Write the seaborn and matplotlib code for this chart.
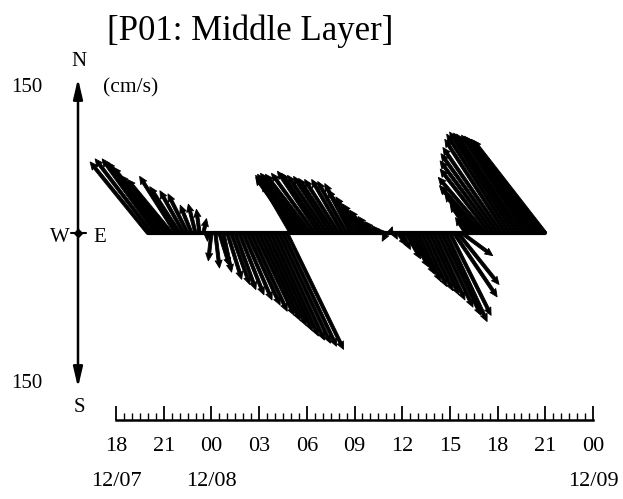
import numpy as np
import pandas as pd
import matplotlib
matplotlib.use("Agg")
import matplotlib.pyplot as plt
import matplotlib.transforms as mtransforms
import seaborn as sns

# ---------------- data ----------------
title = "[P01: Middle Layer]"
unit_label = "(cm/s)"
scale_max = 150
tick_hours = [0, 3, 6, 9, 12, 15, 18, 21, 24, 27, 30]          # hours after 12/07 18:00
tick_labels = ["18", "21", "00", "03", "06", "09", "12", "15", "18", "21", "00"]
date_hours = [0, 6, 30]
date_labels = ["12/07", "12/08", "12/09"]

start_hour = 2.0      # first sample: 12/07 20:00
step_hour = 0.25      # 15-minute sampling

u_east = [
    -56, -55, -52, -51, -49, -46, -43, -35, -29, -23, -19, -11, -7, -3, 3, 0,
    -3, 4, 10, 8, 14, 18, 20, 24, 28, 32, 35, 38, 40, 42, 44, 46, 48, 50, 52, 55,
    -28, -38, -42, -44, -45, -44, -42, -40, -40, -38, -36, -35, -33, -30, -28, -25,
    -26, -22, -19, -16, -12, -9, -6, -4,
    -4, 2, 3, 8, 8, 14, 18, 20, 22, 24, 26, 28, 30, 34, 38, 40, 40, 42, 40, 30,
    -10, -19, -28, -36, -41, -46, -48, -52, -55, -57, -59, -61, -62, -62, -63, -62,
    -63, -65, -67, -68, -70,
]
v_north = [
    69, 72, 72, 69, 64, 56, 52, 55, 45, 41, 38, 27, 28, 23, 14, -8,
    -27, -34, -32, -38, -45, -50, -55, -60, -65, -70, -76, -80, -85, -90, -95, -100,
    -104, -107, -110, -113,
    48, 54, 56, 57, 58, 57, 58, 60, 58, 56, 55, 53, 52, 52, 50, 48,
    42, 35, 28, 22, 16, 11, 7, 4,
    -8, 6, -6, -12, -16, -25, -33, -40, -47, -52, -56, -60, -65, -72, -80, -86,
    -80, -62, -50, -22,
    15, 28, 38, 45, 46, 54, 62, 70, 77, 83, 91, 96, 98, 97, 96, 95,
    94, 93, 92, 91, 90,
]

# ---------------- layout (pixels) ----------------
W, H = 623, 499
X0 = 116.0     # pixel x of hour 0
PXH = 15.9     # pixels per hour
Y0 = 233.0     # pixel y of zero velocity
PXV = 1.03     # pixels per cm/s
AXIS_X = 78.0
BAR_Y = 420.0

sns.set_theme(style="white", rc={"text.color": "black", "axes.edgecolor": "black",
                                 "xtick.color": "black", "ytick.color": "black"})
plt.rcParams["font.family"] = ["Liberation Serif", "DejaVu Serif"]

fig = plt.figure(figsize=(W / 100, H / 100), dpi=100)
fig.patch.set_facecolor("white")
ax = fig.add_axes([0, 0, 1, 1])

df = pd.DataFrame({"u": u_east, "v": v_north})
df["hour"] = start_hour + step_hour * np.arange(len(df))
df["base"] = 0.0

sns.lineplot(data=df, x="hour", y="base", color="black", linewidth=3.0, ax=ax,
             legend=False, zorder=4)
ax.quiver(df["hour"], df["base"], df["u"], df["v"], angles="uv",
          scale_units="dots", scale=1 / PXV, units="dots", width=3.2,
          headwidth=2.2, headlength=2.4, headaxislength=2.2, color="black",
          pivot="tail", zorder=3, linewidth=0.6, edgecolor="black")

ax.set_xlim(-X0 / PXH, (W - X0) / PXH)
ax.set_ylim(-(H - Y0) / PXV, Y0 / PXV)
ax.axis("off")

# N-S reference axis
xa = (AXIS_X - X0) / PXH
for end in (scale_max, -scale_max):
    ax.annotate("", xy=(xa, end), xytext=(xa, 0),
                arrowprops=dict(arrowstyle="-|>,head_length=1.2,head_width=0.28",
                                color="black", lw=1.8, shrinkA=0, shrinkB=0,
                                mutation_scale=10))
ax.plot([xa - 7 / PXH, xa + 8 / PXH], [0, 0], color="black", lw=1.5)
ax.plot([xa], [0], marker="D", ms=4, color="black")


def ftext(px, py, s, **kw):
    fig.text(px / W, 1 - py / H, s, **kw)


ftext(250, 31, title, fontsize=25, ha="center", va="center")
ftext(79, 62, "N", fontsize=15, ha="center", va="center")
ftext(79, 408, "S", fontsize=15, ha="center", va="center")
ftext(60, 238, "W", fontsize=15, ha="center", va="center")
ftext(100, 238, "E", fontsize=15, ha="center", va="center")
ftext(42, 88, str(scale_max), fontsize=15, ha="right", va="center")
ftext(42, 384, str(scale_max), fontsize=15, ha="right", va="center")
ftext(103, 88, unit_label, fontsize=15.5, ha="left", va="center")

# time axis
ax_t = fig.add_axes([X0 / W, 1 - BAR_Y / H, 30 * PXH / W, 0.001])
ax_t.set_xlim(0, 30)
ax_t.set_ylim(0, 1)
ax_t.patch.set_visible(False)
for s in ("top", "left", "right"):
    ax_t.spines[s].set_visible(False)
ax_t.spines["bottom"].set_linewidth(1.8)
ax_t.spines["bottom"].set_color("black")
ax_t.set_yticks([])
ax_t.set_xticks(tick_hours)
ax_t.set_xticklabels(tick_labels, fontsize=16)
ax_t.set_xticks(np.arange(0, 30.01, 0.5), minor=True)
ax_t.tick_params(axis="x", which="major", bottom=True, direction="in", length=10,
                 width=1.3, pad=12, colors="black")
ax_t.tick_params(axis="x", which="minor", bottom=True, direction="in", length=5,
                 width=1.0)
trans = mtransforms.blended_transform_factory(ax_t.transData, fig.transFigure)
for h, lab in zip(date_hours, date_labels):
    ax_t.text(h, 1 - 481 / H, lab, ha="center", va="center", fontsize=16,
              transform=trans)

fig.savefig("out.png", dpi=100)
